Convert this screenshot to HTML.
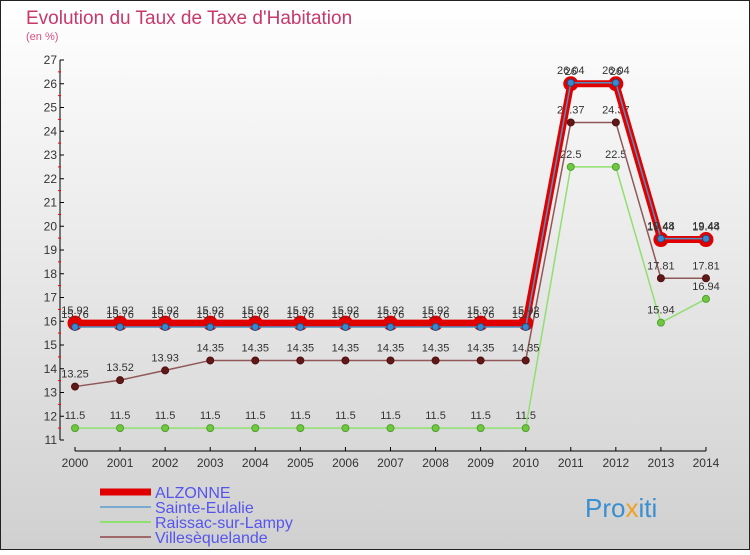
<!DOCTYPE html>
<html><head><meta charset="utf-8"><style>
body{margin:0}
svg text{font-family:"Liberation Sans",sans-serif}
</style></head><body>
<svg id="c" width="750" height="550" xmlns="http://www.w3.org/2000/svg">
<defs><linearGradient id="bg" x1="0" y1="0" x2="0" y2="1"><stop offset="0" stop-color="#ffffff"/><stop offset="1" stop-color="#d0d0d0"/></linearGradient></defs>
<rect x="0.5" y="0.5" width="749" height="549" fill="url(#bg)" stroke="#222"/>
<text x="26" y="24" font-size="19" fill="#c8386a">Evolution du Taux de Taxe d'Habitation</text>
<text x="26" y="40" font-size="11" fill="#d85080">(en %)</text>
<g id="axes"></g><g id="series"></g><g id="legend"></g>
<text x="585" y="517" font-size="26" fill="#3a8fd0">Pro<tspan fill="#f0a020">x</tspan>iti</text>
</svg>
<script>
const years=[2000,2001,2002,2003,2004,2005,2006,2007,2008,2009,2010,2011,2012,2013,2014];
const alzonne=[15.92,15.92,15.92,15.92,15.92,15.92,15.92,15.92,15.92,15.92,15.92,26,26,19.44,19.44];
const sainte=[15.76,15.76,15.76,15.76,15.76,15.76,15.76,15.76,15.76,15.76,15.76,26.04,26.04,19.48,19.48];
const raissac=[11.5,11.5,11.5,11.5,11.5,11.5,11.5,11.5,11.5,11.5,11.5,22.5,22.5,15.94,16.94];
const ville=[13.25,13.52,13.93,14.35,14.35,14.35,14.35,14.35,14.35,14.35,14.35,24.37,24.37,17.81,17.81];
const yTicks=[11,12,13,14,15,16,17,18,19,20,21,22,23,24,25,26,27];
const NS="http://www.w3.org/2000/svg";
const X=i=>75+i*45.07, Y=v=>440-(v-11)*23.75;
function mk(p,t,a){const e=document.createElementNS(NS,t);for(const k in a)e.setAttribute(k,a[k]);p.appendChild(e);return e;}
const ax=document.getElementById('axes');
let l=mk(ax,'line',{x1:60,y1:Y(27),x2:60,y2:Y(11),stroke:'#000'});


l=mk(ax,'line',{x1:X(0),y1:451,x2:X(14),y2:451,stroke:'#000'});


yTicks.forEach(v=>{mk(ax,'line',{x1:60,x2:64,y1:Y(v),y2:Y(v),stroke:'#000'});
 if(v<27)mk(ax,'line',{x1:58,x2:61,y1:Y(v+0.5),y2:Y(v+0.5),stroke:'#f00'});
 const t=mk(ax,'text',{x:57,y:Y(v)+4,'font-size':12,'text-anchor':'end',fill:'#333'});t.textContent=v;
 
 });
years.forEach((y,i)=>{mk(ax,'line',{x1:X(i),x2:X(i),y1:447,y2:451,stroke:'#000'});
 const t=mk(ax,'text',{x:X(i),y:467,'font-size':12,'text-anchor':'middle',fill:'#333'});t.textContent=y;
 
 });
const sg=document.getElementById('series');
function series(vals,name,lc,lw,pr,pf,ps){
 const g=mk(sg,'g',{});
 
 
 mk(g,'polyline',{points:vals.map((v,i)=>X(i)+','+Y(v)).join(' '),fill:'none',stroke:lc,'stroke-width':lw,'stroke-linejoin':'round'});
 vals.forEach((v,i)=>{const c=mk(g,'circle',{cx:X(i),cy:Y(v),r:pr,fill:pf,stroke:ps,'stroke-width':pr>5?3:1});
  
  
  const t=mk(g,'text',{x:X(i),y:Y(v)-9,'font-size':11,'text-anchor':'middle',fill:'#333'});t.textContent=v;
  
  });
}
series(raissac,'series-raissac','#90e070',1.5,3.5,'#70c840','#50a030');
series(ville,'series-villesequelande','#905858',1.5,3.5,'#601818','#501010');
series(alzonne,'series-alzonne','#e00000',7,6,'#e00000','#e00000');
series(sainte,'series-sainte-eulalie','#5090c0',1.5,3.5,'#3a88d0','#205080');
const lg=document.getElementById('legend');
[['ALZONNE','#e00000',7],['Sainte-Eulalie','#7aaad0',2],['Raissac-sur-Lampy','#90e070',2],['Villesèquelande','#a06868',2]].forEach((d,i)=>{
 const y=492+i*15;
 const ln=mk(lg,'line',{x1:100,x2:151,y1:y,y2:y,stroke:d[1],'stroke-width':d[2]});
 
 
 const t=mk(lg,'text',{x:155,y:y+6,'font-size':16,fill:'#5555ee'});t.textContent=d[0];
 
 
});
</script>
</body></html>
